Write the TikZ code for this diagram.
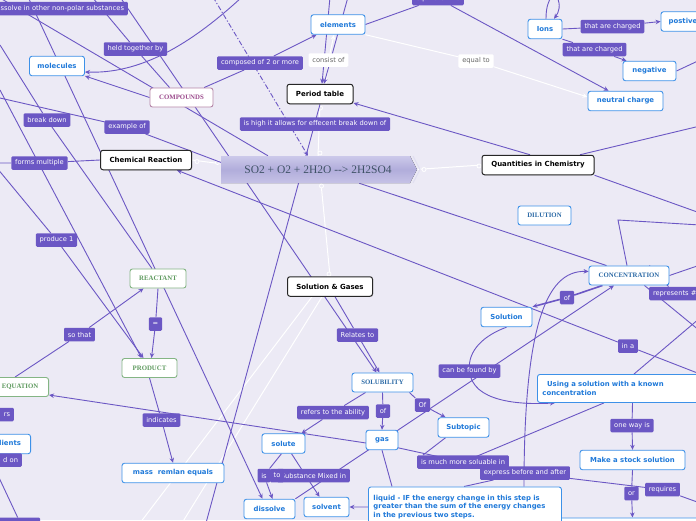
\documentclass[tikz,border=0pt]{standalone}
\usepackage{fontspec}
\usetikzlibrary{arrows.meta,shadows,calc}
\newfontfamily\dv{DejaVu Sans}
\newfontfamily\lsr{Liberation Serif}
\definecolor{bgc}{HTML}{ECEAF5}
\definecolor{purp}{HTML}{6B57C4}
\definecolor{bluec}{HTML}{3D91E8}
\definecolor{bluet}{HTML}{1F79D9}
\definecolor{greenc}{HTML}{84B584}
\definecolor{greent}{HTML}{5E9A5E}
\definecolor{pinkc}{HTML}{B686A8}
\definecolor{pinkt}{HTML}{9B4A8C}
\definecolor{serb}{HTML}{2C6AA6}
\definecolor{cenA}{HTML}{CCC9EA}
\definecolor{cenM}{HTML}{B1ADDB}
\definecolor{cenB}{HTML}{C6C2E6}
\definecolor{cent}{HTML}{3F5266}
\pgfdeclarelayer{bgl}
\pgfdeclarelayer{lines}
\pgfsetlayers{bgl,lines,main}
\tikzset{
  lab/.style={fill=purp, text=white, font=\dv\fontsize{6.7}{7.5}\selectfont, rounded corners=1.2pt, inner xsep=3.8pt, inner ysep=0pt, minimum height=13.5pt},
  wlab/.style={lab, fill=white, text=black!60},
  bnode/.style={draw=bluec, fill=white, line width=0.9pt, rounded corners=2.5pt, text=bluet, font=\dv\bfseries\fontsize{6.9}{8.6}\selectfont, minimum height=19.5pt, inner sep=0pt},
  knode/.style={draw=black!85, fill=white, line width=1pt, rounded corners=2.5pt, text=black, font=\dv\bfseries\fontsize{7}{8}\selectfont, minimum height=19.5pt, inner sep=0pt, drop shadow={opacity=0.35, shadow xshift=0.7pt, shadow yshift=-0.7pt}},
  gnode/.style={draw=greenc, fill=white, line width=0.9pt, rounded corners=2.5pt, text=greent, font=\lsr\bfseries\fontsize{6.8}{7.5}\selectfont, minimum height=19pt, inner sep=0pt},
  pnode/.style={gnode, draw=pinkc, text=pinkt},
  snode/.style={gnode, draw=bluec, text=serb},
  con/.style={purp, line width=0.9pt},
  arr/.style={-{Stealth[length=5pt,width=4.5pt]}},
  wcon/.style={white, line width=1pt},
}
\begin{document}
\begin{tikzpicture}[x=1pt,y=-1pt]
\useasboundingbox (0,0) rectangle (696,520);
\clip (0,0) rectangle (696,520);
\begin{pgfonlayer}{bgl}
\fill[bgc] (0,0) rectangle (696,520);
\end{pgfonlayer}

% central topic
\fill[top color=cenA, bottom color=cenB, middle color=cenM] (221,156) -- (410,156) -- (417,169.5) -- (410,183) -- (221,183) -- cycle;
\draw[white!60!cenM, line width=1pt] (413,156) -- (420,169.5) -- (413,183);
\node[minimum width=196pt, minimum height=27pt, inner sep=0pt, font=\lsr\fontsize{11.5}{13}\selectfont, text=cent] (central) at (318,169.5) {SO2 + O2 + 2H2O {-}{-}> 2H2SO4};

% main topics
\node[knode, minimum width=66pt] (period) at (320,94) {Period table};
\node[knode, minimum width=91pt] (chem) at (146,160) {Chemical Reaction};
\node[knode, minimum width=112pt] (quant) at (538,165) {Quantities in Chemistry};
\node[knode, minimum width=85pt] (solgas) at (330,286.5) {Solution \& Gases};

% blue nodes
\node[bnode, minimum width=54pt] (elements) at (338,24.5) {elements};
\node[bnode, minimum width=55pt] (molecules) at (57,66) {molecules};
\node[bnode, minimum width=34pt] (ions) at (545,29) {Ions};
\node[bnode, minimum width=44pt] (postive) at (683,21.5) {postive};
\node[bnode, minimum width=53pt] (negative) at (649.5,71) {negative};
\node[bnode, minimum width=75pt] (neutral) at (625.5,101) {neutral charge};
\node[bnode, minimum width=51pt] (solution) at (506.5,317) {Solution};
\node[bnode, minimum width=102pt] (mass) at (173,473) {mass\ \ remlan equals};
\node[bnode, minimum width=43pt] (solute) at (283.5,443.5) {solute};
\node[bnode, minimum width=32pt] (gas) at (382,440) {gas};
\node[bnode, minimum width=51pt] (subtopic) at (463.5,427.5) {Subtopic};
\node[bnode, minimum width=51pt] (dissolve) at (269.5,509) {dissolve};
\node[bnode, minimum width=45pt] (solvent) at (326.5,507) {solvent};
\node[bnode, minimum width=105pt] (stock) at (632.5,460) {Make a stock solution};
\node[bnode, minimum width=64pt, anchor=east] (ingred) at (31,444) {Ingredients};
\node[bnode, anchor=north west, minimum width=170pt, minimum height=20pt] (bottombox) at (542,517.5) {};
\node[bnode, anchor=north west, align=left, text width=183pt, inner xsep=5pt, minimum height=40pt] (liquid) at (368,486.5) {liquid - IF the energy change in this step is\\greater than the sum of the energy changes\\in the previous two steps.};
\node[bnode, anchor=north west, align=left, text width=180pt, inner xsep=5pt, minimum height=28pt] (using) at (537,374) {\ \ Using a solution with a known\\concentration};

% serif nodes
\node[pnode, minimum width=63pt] (compounds) at (181.5,97.5) {COMPOUNDS};
\node[snode, minimum width=53pt] (dilution) at (544.5,215.5) {DILUTION};
\node[snode, minimum width=80pt] (conc) at (629,275.5) {CONCENTRATION};
\node[snode, minimum width=61pt] (solubility) at (382.5,382.5) {SOLUBILITY};
\node[gnode, minimum width=56pt] (reactant) at (158,278.5) {REACTANT};
\node[gnode, minimum width=55pt] (product) at (149.5,368) {PRODUCT};
\node[gnode, minimum width=57pt, anchor=east] (equation) at (49,387) {EQUATION};

% labels
\node[lab, anchor=east] (dissolvein) at (128,8.5) {Dissolve in other non-polar substances};
\node[lab] (held) at (135.5,49) {held together by};
\node[lab] (composed) at (260,63) {composed of 2 or more};
\node[wlab] (consist) at (328.5,60) {consist of};
\node[wlab] (equal) at (476,61) {equal to};
\node[lab] (equivalent) at (438,-1.5) {equivalent to};
\node[lab] (charged1) at (612.5,26.5) {that are charged};
\node[lab] (charged2) at (594.5,49.5) {that are charged};
\node[lab] (ishigh) at (315,124) {is high it allows for effecent break down of};
\node[lab] (breakdown) at (47,120) {break down};
\node[lab] (exampleof) at (127,127) {example of};
\node[lab] (forms) at (39.5,163) {forms multiple};
\node[lab] (produce) at (56.5,240) {produce 1};
\node[lab] (sothat) at (79.5,334.5) {so that};
\node[lab] (eqlab) at (155.5,324) {=};
\node[lab] (relates) at (357.5,335) {Relates to};
\node[lab] (indicates) at (161.5,420) {indicates};
\node[lab] (canbefound) at (469.5,371) {can be found by};
\node[lab] (of1) at (567,297.5) {of};
\node[lab, anchor=west] (represents) at (649,293.5) {represents \#};
\node[lab] (ina) at (628,346) {in a};
\node[lab] (refers) at (333,412.5) {refers to the ability};
\node[lab] (of2) at (383,411) {of};
\node[lab] (of3) at (422.5,405) {Of};
\node[lab, anchor=west] (muchmore) at (417,462) {is much more soluable in};
\node[lab] (express) at (525,473) {express before and after};
\node[lab] (oneway) at (632,425.5) {one way is};
\node[lab] (orlab) at (631.5,493.5) {or};
\node[lab] (requires) at (662.5,489.5) {requires};
\node[lab, anchor=east] (mixed) at (350,475.5) {Substance Mixed in};
\node[lab] (islab) at (264,475.5) {is};
\node[lab] (tolab) at (277,475.5) {to};
\node[lab, anchor=east, text width=22pt, align=right] (rslab) at (14,414.5) {rs};
\node[lab, anchor=east, text width=30pt, align=right] (donlab) at (22,460) {d on};
\node[lab, anchor=north west, minimum width=45pt] (bllab) at (-5,517.5) {};

% free ends
\coordinate (t1) at (330,-3);
\coordinate (t2) at (348,-3);
\coordinate (b1) at (206,523);
\coordinate (t3) at (213,-3);
\coordinate (t4) at (242,-3);
\coordinate (l1) at (0,98);
\coordinate (r1) at (700,374);
\coordinate (r2) at (700,126);
\coordinate (r3) at (700,213);
\coordinate (t5) at (551,-3);
\coordinate (t6) at (557,-3);
\coordinate (r4) at (700,60);
\coordinate (r5) at (700,225);
\coordinate (e1) at (618,220);
\coordinate (r6) at (700,265);
\coordinate (r7) at (700,503);
\coordinate (g1) at (399,448);
\coordinate (r8) at (700,331);
\coordinate (r9) at (700,318);
\coordinate (t7) at (120,-3);
\coordinate (t8) at (28,-3);
\coordinate (l2) at (0,45);
\coordinate (l3) at (0,90);
\coordinate (l4) at (-8,162);
\coordinate (l5) at (-3,163);
\coordinate (l6) at (0,-2);
\coordinate (t9) at (92,-3);
\coordinate (w1) at (140,523);
\coordinate (w2) at (182,523);

\begin{pgfonlayer}{lines}
% white connectors
\draw[wcon] (chem.east) -- ($(central.west)+(-1,-6)$);
\draw[wcon] (central.east) -- (quant.west);
\draw[wcon] (central.north) -- (period.south);
\draw[wcon] ($(central.south)+(3,0)$) -- (solgas.north);
\draw[wcon, arr] (elements.south east) -- (equal) -- ($(neutral.west)+(0,-4)$);
\draw[wcon, arr] ($(period.north)+(6,0)$) -- (consist) -- ($(elements.south)+(-4,0)$);
\draw[wcon] ($(solgas.south)+(-18,0)$) -- (w1);
\draw[wcon] ($(solgas.south)+(-8,0)$) -- (w2);
\foreach \p in {(197,161.5),(217.5,162.5),(424,169.5),(479,166),(320.5,108),(320,153),(321.5,186),(329,274)}
  \draw[white, line width=0.8pt, fill=bgc] \p circle (2pt);

% purple connectors
\draw[con, arr] (t1) -- ($(period.north)+(2,0)$);
\draw[con, arr] (t2) -- ($(period.north)+(4,0)$);
\draw[con] (period.south) -- (b1);
\draw[con, arr, dash pattern=on 5pt off 2pt on 1.2pt off 2pt] (t3) -- ($(central.north)+(-10,0)$);
\draw[con, arr] (compounds) -- (composed) -- ($(elements.south west)+(6,0)$);
\draw[con, arr] (compounds.west) -- ($(molecules.east)+(0,10)$);
\draw[con, arr] (t4) .. controls (190,45) and (140,74) .. ($(molecules.east)+(0,6)$);
\draw[con] (t9) -- (held) -- ($(compounds.north west)+(20,0)$);
\draw[con] (l1) -- (exampleof) -- ($(central.west)+(4,-6)$);
\draw[con, arr] (r1) -- (ina) -- ($(chem.south)+(31,0)$);
\draw[con] (central) -- ($(conc.north west)+(18,0)$);
\draw[con, arr] ($(quant.north)+(-8,0)$) -- ($(period.east)+(0,9)$);
\draw[con] ($(quant.north)+(42,0)$) -- (r2);
\draw[con] (quant.south east) -- (r3);
\draw[con] (elements.east) -- (equivalent);
\draw[con, arr] (equivalent) -- ($(neutral.north)+(-17,0)$);
\draw[con, arr] (ions.east) -- (charged1) -- (postive.west);
\draw[con, arr] (ions.south east) -- (charged2) -- ($(negative.north west)+(4,0)$);
\draw[con] ($(ions.north)+(1,0)$) .. controls (546,6) and (549,1) .. (t5);
\draw[con, arr] (t6) .. controls (561,5) and (559,12) .. ($(ions.north)+(9,0)$);
\draw[con] (negative.east) -- (r4);
\draw[con] (r5) -- (e1) -- ($(conc.north)+(-2,0)$);
\draw[con] (conc.east) -- (r6);
\draw[con, line width=1.6pt, arr] ($(conc.south west)+(14,0)$) -- (of1) -- (solution.north east);
\draw[con, arr] ($(liquid.north west)+(156,0)$) .. controls (524,330) and (545,270) .. ($(conc.west)+(0,-4)$);
\draw[con, arr] (dissolve.north east) -- ($(conc.south)+(-15,0)$);
\draw[con, arr] (solution.south) .. controls (485,335) and (467,350) .. (canbefound.center) .. controls (472,402) and (520,405) .. ($(using.south west)+(18,0)$);
\draw[con, arr] ($(stock.north |- using.south)$) -- (oneway) -- (stock.north);
\draw[con, arr] (stock.south) -- (orlab) -- (bottombox.north -| stock.south);
\draw[con] ($(liquid.north west)+(96,0)$) -- (express) -- (requires) -- (r7);
\draw[con, arr] ($(using.south west)+(67,0)$) -- (muchmore.center) -- (g1) -- ($(equation.east)+(0,8)$);
\draw[con] ($(subtopic.south west)+(8,0)$) -- ($(muchmore.north west)+(6,0)$);
\draw[con] ($(conc.south east)+(-25,0)$) -- (r8);
\draw[con] (r9) -- ($(using.north west)+(97,0)$);
\draw[con] ($(conc.north east)+(-20,0)$) -- (represents);
\draw[con, arr] ($(solgas.south)+(5,0)$) -- (relates) -- ($(solubility.north)+(-3,0)$);
\draw[con, arr] (t7) -- ($(solubility.north)+(-6,0)$);
\draw[con, arr] ($(solubility.south west)+(14,0)$) -- (refers) -- ($(solute.north east)+(-4,0)$);
\draw[con, arr] (solubility.south) -- (of2) -- (gas.north);
\draw[con, arr] ($(solubility.south east)+(-4,0)$) -- (of3) -- ($(subtopic.north west)+(8,0)$);
\draw[con] (gas.south) -- ($(liquid.north west)+(24,0)$);
\draw[con, arr] ($(solute.south)+(-2,0)$) -- (islab) -- ($(dissolve.north)+(3,0)$);
\draw[con, arr] ($(solute.south)+(8,0)$) -- ($(solvent.north)+(-7,0)$);
\draw[con, arr] (liquid.west) -- (solvent.east);
\draw[con, arr] (t8) -- ($(dissolve.north)+(-7,0)$);
\draw[con] (l2) -- (breakdown) -- ($(reactant.north)+(-6,0)$);
\draw[con, arr] (l3) -- ($(product.north)+(-8,0)$);
\draw[con, arr] (l4) -- (produce) -- ($(product.north)+(-6,0)$);
\draw[con, arr] (reactant.south) -- (eqlab) -- ($(product.north)+(2,0)$);
\draw[con, arr] ($(equation.north)+(-5,0)$) -- (sothat) -- ($(reactant.south west)+(14,0)$);
\draw[con, arr] (product.south) -- (indicates) -- (mass.north);
\draw[con] (l5) -- (forms) -- (chem.west);
\draw[con] (l6) -- ($(central.north)+(-50,0)$);
\draw[con] ($(donlab.south west)+(10,0)$) -- ($(bllab.north)+(0,0)$);
\end{pgfonlayer}
\end{tikzpicture}
\end{document}
